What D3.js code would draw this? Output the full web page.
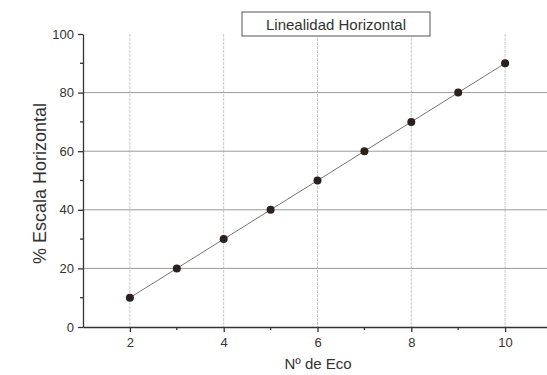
<!DOCTYPE html>
<html>
<head>
<meta charset="utf-8">
<script src="https://cdn.jsdelivr.net/npm/d3@7"></script>
<style>
  body { margin: 0; background: #fff; }
  text { font-family: "Liberation Sans", Arial, sans-serif; }
</style>
</head>
<body>
<div id="chart"></div>
<script>
// data
const ecoNumbers = [2, 3, 4, 5, 6, 7, 8, 9, 10]
const scalePercent = [10, 20, 30, 40, 50, 60, 70, 80, 90]
const xTicks = [2, 4, 6, 8, 10]
const xMinorTicks = [3, 5, 7, 9]
const yTicks = [0, 20, 40, 60, 80, 100]
const yMinorTicks = [10, 30, 50, 70, 90]

const width = 547, height = 375

const svg = d3.select("#chart").append("svg")
    .attr("width", width)
    .attr("height", height)

// 2 -> 130px, 10 -> 505px
const x = d3.scaleLinear().domain([1, 11]).range([83, 552])
const y = d3.scaleLinear().domain([0, 100]).range([327, 34])

// vertical grid (light)
svg.append("g")
  .selectAll("line")
  .data(xTicks)
  .join("line")
    .attr("x1", d => x(d)).attr("x2", d => x(d))
    .attr("y1", y(100)).attr("y2", y(0))
    .attr("stroke", "#c8c8c8")
    .attr("stroke-width", 1)
    .attr("stroke-dasharray", "3,1")

// horizontal grid
svg.append("g")
  .selectAll("line")
  .data(yTicks.filter(d => d > 0 && d < 100))
  .join("line")
    .attr("x1", x.range()[0]).attr("x2", width)
    .attr("y1", d => y(d)).attr("y2", d => y(d))
    .attr("stroke", "#9a9a9a")
    .attr("stroke-width", 1)

// axes
const xAxis = svg.append("g")
    .attr("transform", `translate(0,${y(0)})`)
    .call(d3.axisBottom(x).tickValues(xTicks).tickSize(5).tickPadding(6).tickSizeOuter(0))
xAxis.select(".domain").attr("stroke", "#333").attr("stroke-width", 1.3)
xAxis.selectAll(".tick line").attr("stroke", "#333").attr("stroke-width", 1.3)
xAxis.selectAll("text").attr("font-size", 13).attr("fill", "#333")
svg.append("g")
    .attr("transform", `translate(0,${y(0)})`)
  .selectAll("line")
  .data(xMinorTicks)
  .join("line")
    .attr("x1", d => x(d)).attr("x2", d => x(d))
    .attr("y1", 0).attr("y2", 3)
    .attr("stroke", "#333").attr("stroke-width", 1.3)

const yAxis = svg.append("g")
    .attr("transform", `translate(${x.range()[0]},0)`)
    .call(d3.axisLeft(y).tickValues(yTicks).tickSize(5).tickPadding(4).tickSizeOuter(0))
yAxis.select(".domain").attr("stroke", "#333").attr("stroke-width", 1.3)
yAxis.selectAll(".tick line").attr("stroke", "#333").attr("stroke-width", 1.3)
yAxis.selectAll("text").attr("font-size", 13).attr("fill", "#333")
svg.append("g")
    .attr("transform", `translate(${x.range()[0]},0)`)
  .selectAll("line")
  .data(yMinorTicks)
  .join("line")
    .attr("x1", -3).attr("x2", 0)
    .attr("y1", d => y(d)).attr("y2", d => y(d))
    .attr("stroke", "#333").attr("stroke-width", 1.3)

// series line + points
const points = ecoNumbers.map((e, i) => ({ e: e, v: scalePercent[i] }))

svg.append("path")
    .datum(points)
    .attr("fill", "none")
    .attr("stroke", "#777")
    .attr("stroke-width", 1)
    .attr("d", d3.line().x(d => x(d.e)).y(d => y(d.v)))

svg.append("g")
  .selectAll("circle")
  .data(points)
  .join("circle")
    .attr("cx", d => x(d.e))
    .attr("cy", d => y(d.v))
    .attr("r", 4)
    .attr("fill", "#2b2220")

// title box
svg.append("rect")
    .attr("x", 242).attr("y", 12)
    .attr("width", 188).attr("height", 24)
    .attr("fill", "#fff")
    .attr("stroke", "#555")
    .attr("stroke-width", 1)
svg.append("text")
    .attr("x", 336).attr("y", 30)
    .attr("text-anchor", "middle")
    .attr("font-size", 15)
    .attr("fill", "#333")
    .text("Linealidad Horizontal")

// axis titles
svg.append("text")
    .attr("x", 318).attr("y", 369)
    .attr("text-anchor", "middle")
    .attr("font-size", 15)
    .attr("fill", "#333")
    .text("Nº de Eco")

svg.append("text")
    .attr("transform", `translate(46,${(y(0) + y(100)) / 2 + 3}) rotate(-90)`)
    .attr("text-anchor", "middle")
    .attr("font-size", 18)
    .attr("fill", "#333")
    .text("% Escala Horizontal")
</script>
</body>
</html>
